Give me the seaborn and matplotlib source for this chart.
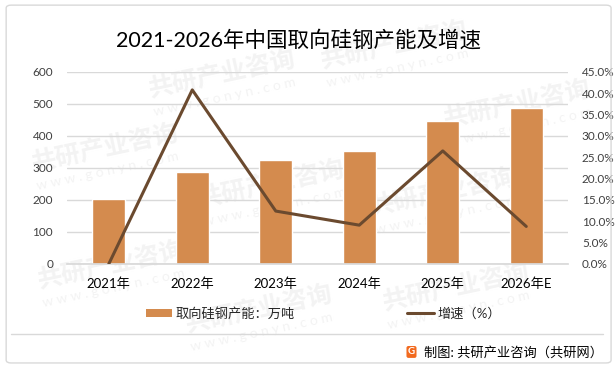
import numpy as np
import pandas as pd
import seaborn as sns
import matplotlib.pyplot as plt
from matplotlib.patches import FancyBboxPatch, Patch
from matplotlib.lines import Line2D
from matplotlib.ticker import MultipleLocator, PercentFormatter

sns.set_theme(style="white")
plt.rcParams['font.family'] = ['Lato', 'Noto Sans CJK SC', 'DejaVu Sans']

# data
years = ['2021年', '2022年', '2023年', '2024年', '2025年', '2026年E']
capacity = [203, 287, 325, 353, 447, 487]          # 万吨
growth = [0.0, 40.8, 12.4, 9.1, 26.5, 8.8]         # %

df = pd.DataFrame({'year': years, 'capacity': capacity, 'growth': growth})

bar_color = '#D48B4E'
line_color = '#6B4A2F'
grid_color = '#D9D9D9'
text_color = '#404040'

fig = plt.figure(figsize=(6.16, 3.67), dpi=100)
ax = fig.add_axes([0.1088, 0.2807, 0.8133, 0.5232])

# faint watermarks, kept behind the chart
wm_pos = [(0.17, 0.60), (0.36, 0.80), (0.64, 0.88), (0.84, 0.72), (0.18, 0.28),
          (0.44, 0.50), (0.72, 0.48), (0.42, 0.16), (0.74, 0.22)]
for x, y in wm_pos:
    fig.text(x, y, '共研产业咨询', fontsize=18, fontweight='bold', color='#F3F3F3',
             rotation=12, ha='center', va='center', zorder=-5)
    fig.text(x + 0.005, y - 0.065, 'w w w . g o n y n . c o m', fontsize=10,
             color='#F3F3F3', rotation=12, ha='center', va='center', zorder=-5)

ax.patch.set_alpha(0)
sns.barplot(data=df, x='year', y='capacity', color=bar_color, width=0.4,
            saturation=1, ax=ax, zorder=2)
ax.set_ylim(0, 600)
ax.yaxis.set_major_locator(MultipleLocator(100))
ax.grid(axis='y', color=grid_color, linewidth=1, zorder=0)
ax.set_axisbelow(True)
for s in ['top', 'right', 'left']:
    ax.spines[s].set_visible(False)
ax.spines['bottom'].set_color(grid_color)
ax.set_xlabel('')
ax.set_ylabel('')
ax.tick_params(axis='y', length=0, labelsize=8.5, labelcolor=text_color, pad=10)
ax.tick_params(axis='x', length=0, labelsize=9.5, labelcolor='black', pad=10)

ax2 = ax.twinx()
ax2.patch.set_alpha(0)
sns.lineplot(data=df, x='year', y='growth', color=line_color, linewidth=2.2,
             ax=ax2, zorder=3)
ax2.set_ylim(0, 45)
ax2.yaxis.set_major_locator(MultipleLocator(5))
ax2.yaxis.set_major_formatter(PercentFormatter(decimals=1))
ax2.set_ylabel('')
for s in ['top', 'right', 'left', 'bottom']:
    ax2.spines[s].set_visible(False)
ax2.tick_params(axis='y', length=0, labelsize=8.5, labelcolor=text_color, pad=10)
ax.set_xlim(-0.5, 5.5)

fig.text(0.485, 0.891, '2021-2026年中国取向硅钢产能及增速', fontsize=15.5,
         ha='center', va='center', color='black')

handles = [Patch(facecolor=bar_color, edgecolor='none'),
           Line2D([0], [0], color=line_color, linewidth=2.2)]
fig.legend(handles, ['取向硅钢产能：万吨', '增速（%）'], loc='center',
           bbox_to_anchor=(0.525, 0.147), ncol=2, frameon=False, fontsize=9.5,
           handlelength=2.0, handleheight=0.6, handletextpad=0.3,
           columnspacing=8.5)

# frame and separator
fig.add_artist(FancyBboxPatch((0.010, 0.011), 0.982, 0.975,
                              boxstyle='round,pad=0,rounding_size=0.008',
                              transform=fig.transFigure, fill=False,
                              edgecolor=grid_color, linewidth=1))
fig.add_artist(Line2D([0.018, 0.979], [0.090, 0.090], transform=fig.transFigure,
                      color=grid_color, linewidth=1))

# source
fig.text(0.668, 0.041, 'G', fontsize=7, fontweight='bold', color='white',
         ha='center', va='center',
         bbox=dict(boxstyle='round,pad=0.15,rounding_size=0.2', fc='#F26A1F', ec='none'))
fig.text(0.688, 0.041, '制图: 共研产业咨询（共研网）', fontsize=9.5,
         ha='left', va='center', color='black')

fig.savefig('out.png', dpi=100)
